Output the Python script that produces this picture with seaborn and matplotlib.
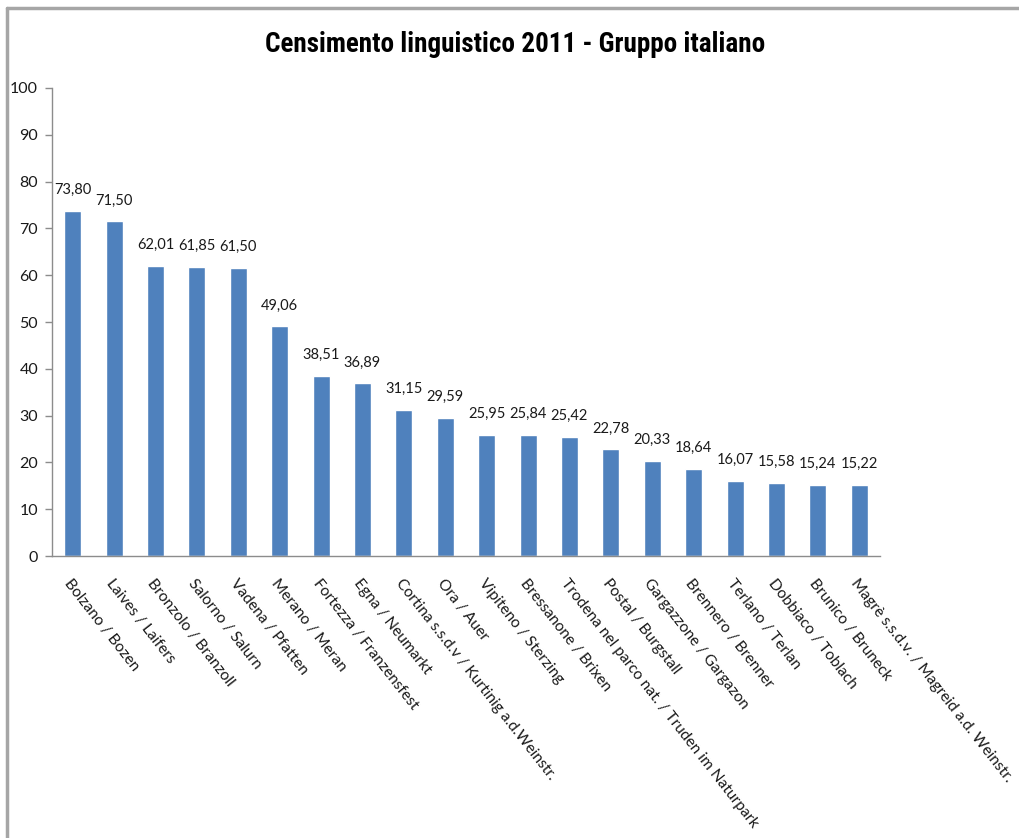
import matplotlib
matplotlib.use("Agg")
import matplotlib.pyplot as plt
from matplotlib.lines import Line2D
from matplotlib import font_manager
import seaborn as sns
import pandas as pd

comuni = [
    "Bolzano / Bozen",
    "Laives / Laifers",
    "Bronzolo / Branzoll",
    "Salorno / Salurn",
    "Vadena / Pfatten",
    "Merano / Meran",
    "Fortezza / Franzensfest",
    "Egna / Neumarkt",
    "Cortina s.s.d.v / Kurtinig a.d.Weinstr.",
    "Ora / Auer",
    "Vipiteno / Sterzing",
    "Bressanone / Brixen",
    "Trodena nel parco nat. / Truden im Naturpark",
    "Postal / Burgstall",
    "Gargazzone / Gargazon",
    "Brennero / Brenner",
    "Terlano / Terlan",
    "Dobbiaco / Toblach",
    "Brunico / Bruneck",
    "Magrè s.s.d.v. / Magreid a.d. Weinstr.",
]
percentuali = [73.80, 71.50, 62.01, 61.85, 61.50, 49.06, 38.51, 36.89, 31.15, 29.59,
               25.95, 25.84, 25.42, 22.78, 20.33, 18.64, 16.07, 15.58, 15.24, 15.22]
yticks = [0, 10, 20, 30, 40, 50, 60, 70, 80, 90, 100]


def first_available(names):
    for name in names:
        try:
            font_manager.findfont(font_manager.FontProperties(family=name),
                                  fallback_to_default=False)
            return name
        except Exception:
            continue
    return "DejaVu Sans"


title_font = first_available(["Liberation Sans Narrow", "Roboto Condensed",
                              "Open Sans Condensed", "Lato"])

sns.set_theme(style="white")
plt.rcParams["font.family"] = ["Lato", "DejaVu Sans"]

df = pd.DataFrame({"comune": comuni, "perc": percentuali})

fig = plt.figure(figsize=(10.19, 8.38), dpi=100)
ax = fig.add_axes([0.051, 0.3365, 0.8125, 0.5585])

sns.barplot(data=df, x="comune", y="perc", color="#4F81BD", saturation=1,
            width=0.41, ax=ax)

ax.set_xlim(-0.5, len(comuni) - 0.5)
ax.set_ylim(0, 100)
ax.set_yticks(yticks)
ax.set_yticklabels([str(v) for v in yticks], fontsize=11.5, color="#1a1a1a")
ax.set_xlabel("")
ax.set_ylabel("")

# category ticks sit between the bars
ax.set_xticks([i - 0.5 for i in range(len(comuni) + 1)], minor=True)
ax.set_xticks(range(len(comuni)))
ax.tick_params(axis="x", which="major", length=0, pad=15)
ax.tick_params(axis="x", which="minor", length=6, width=1, color="#8c8c8c", direction="out")
ax.tick_params(axis="y", length=5, width=1, color="#8c8c8c", direction="out", left=True, pad=5)
ax.set_xticklabels(comuni, rotation=-52, ha="left", va="top", rotation_mode="anchor",
                   fontsize=11.2, color="#1a1a1a")

for side in ["top", "right"]:
    ax.spines[side].set_visible(False)
for side in ["left", "bottom"]:
    ax.spines[side].set_color("#8c8c8c")
    ax.spines[side].set_linewidth(1)

ax.bar_label(ax.containers[0],
             labels=[f"{v:.2f}".replace(".", ",") for v in percentuali],
             padding=10, fontsize=10.5, color="#1a1a1a")

fig.text(0.506, 1 - 45 / 838, "Censimento linguistico 2011 - Gruppo italiano",
         ha="center", va="center", fontsize=19.5, fontweight="bold",
         family=[title_font, "DejaVu Sans"], color="#000000")

# frame edges along the top and left of the chart area
fig.add_artist(Line2D([7 / 1019, 1], [1 - 8 / 838, 1 - 8 / 838], transform=fig.transFigure,
                      color="#a6a6a6", linewidth=2.5))
fig.add_artist(Line2D([7 / 1019, 7 / 1019], [0, 1 - 8 / 838], transform=fig.transFigure,
                      color="#a6a6a6", linewidth=2.5))

fig.savefig("out.png", dpi=100)
